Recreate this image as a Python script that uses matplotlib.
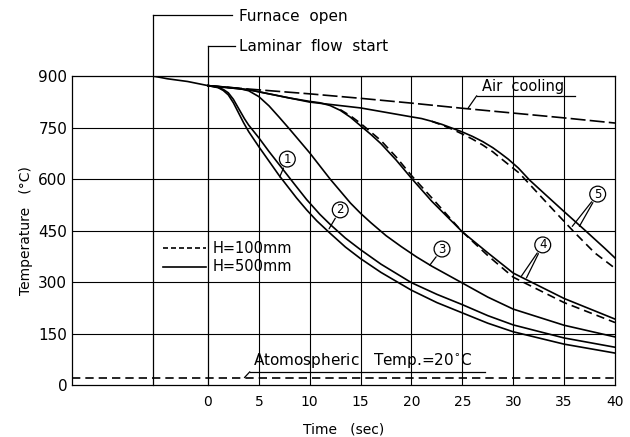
import matplotlib.pyplot as plt

# --- data (time in sec, temperature in deg C) ---
t_furnace = -5.4
pre_t = [-5.4, -4, -2, 0]
pre_T = [900, 892, 884, 872]

air_t = [0, 4, 10, 15, 20, 25, 30, 35, 40]
air_T = [872, 862, 848, 835, 821, 806, 792, 778, 763]

c1_t = [0, 1, 1.5, 2, 2.5, 3, 3.5, 4, 5, 6, 7, 8.7, 9.7, 10.7, 12, 13.5, 15, 17, 20, 22.5, 25, 27.5, 30, 35, 40]
c1_T = [872, 866, 858, 845, 822, 793, 764, 738, 694, 652, 610, 545, 510, 478, 442, 402, 368, 328, 276, 240, 210, 180, 155, 119, 93]

c2_t = [0, 1, 1.5, 2, 2.5, 3, 3.6, 4, 5, 6, 7, 8.5, 9.7, 11, 12, 13.5, 15, 17, 20, 22.5, 25, 27.5, 30, 35, 40]
c2_T = [872, 867, 861, 851, 832, 806, 775, 757, 720, 680, 642, 585, 540, 497, 468, 428, 394, 352, 298, 264, 234, 202, 175, 137, 110]

c3_t = [0, 2, 3, 4, 5, 6, 7, 8, 10, 12, 14, 15, 16, 17.5, 19, 20.5, 22, 25, 27.5, 30, 35, 40]
c3_T = [872, 867, 864, 857, 840, 813, 780, 746, 676, 600, 530, 500, 473, 435, 403, 373, 346, 297, 256, 221, 174, 140]

c4s_t = [0, 4, 8, 10, 11, 12, 13, 14, 15, 16, 17, 18.5, 20, 22, 25, 27.5, 30, 35, 40]
c4s_T = [872, 860, 836, 826, 822, 814, 800, 780, 755, 730, 703, 655, 602, 535, 446, 385, 326, 252, 192]
c4d_t = [13, 14, 15, 16, 17, 18.5, 20, 22, 25, 27.5, 30, 35, 40]
c4d_T = [802, 784, 762, 737, 712, 664, 610, 545, 446, 377, 314, 240, 182]

c5s_t = [0, 4, 10, 15, 20, 21, 22, 23, 24, 25, 26, 27, 28, 28.7, 29.5, 30.5, 31.6, 33, 35, 37, 39, 40]
c5s_T = [872, 860, 824, 807, 781, 776, 768, 759, 748, 737, 724, 709, 691, 676, 658, 632, 597, 559, 505, 452, 398, 370]
c5d_t = [22, 23, 24, 25, 26, 27, 28, 28.7, 29.5, 30.6, 32, 34, 36, 38, 40]
c5d_T = [768, 757, 745, 731, 716, 699, 679, 662, 643, 617, 572, 508, 445, 385, 340]

T_atm = 20
xticks = [0, 5, 10, 15, 20, 25, 30, 35, 40]
yticks = [0, 150, 300, 450, 600, 750, 900]

fig = plt.figure(figsize=(6.3, 4.37), dpi=100)
ax = fig.add_axes([72/630, 1-385/437, (615-72)/630, (385-76)/437])
ax.set_xlim(-13.36, 40)
ax.set_ylim(0, 900)

# grid
for y in yticks[1:-1]:
    ax.axhline(y, color='k', lw=0.8)
for x in xticks[1:-1]:
    ax.axvline(x, color='k', lw=0.8)
ax.axhline(900, xmin=(t_furnace+13.36)/53.36, color='k', lw=0.9)

# furnace open / laminar flow start markers
ax.plot([t_furnace, t_furnace], [0, 1078], color='k', lw=0.9, clip_on=False)
ax.plot([t_furnace, 2.4], [1078, 1078], color='k', lw=0.9, clip_on=False)
ax.text(3.1, 1072, 'Furnace  open', fontsize=11, va='center')
ax.plot([0, 0], [0, 987], color='k', lw=0.9, clip_on=False)
ax.plot([0, 2.7], [987, 987], color='k', lw=0.9, clip_on=False)
ax.text(3.1, 987, 'Laminar  flow  start', fontsize=11, va='center')

lw = 1.2
ax.plot([-13.36, t_furnace], [900, 900], color='k', lw=lw, ls=(0, (5, 3)))
ax.plot(pre_t, pre_T, color='k', lw=lw)
ax.plot(air_t, air_T, color='k', lw=lw, ls=(0, (9, 2.5)))
for tt, TT in [(c1_t, c1_T), (c2_t, c2_T), (c3_t, c3_T), (c4s_t, c4s_T), (c5s_t, c5s_T)]:
    ax.plot(tt, TT, color='k', lw=lw)
for tt, TT in [(c4d_t, c4d_T), (c5d_t, c5d_T)]:
    ax.plot(tt, TT, color='k', lw=lw, ls=(0, (5, 3)))
ax.axhline(T_atm, color='k', lw=lw, ls=(0, (5, 3)))

# labels on the plot
ax.text(26.9, 868, 'Air  cooling', fontsize=10.5, va='center')
ax.plot([26.4, 36.1], [842, 842], color='k', lw=0.9)
ax.plot([26.4, 25.6], [842, 808], color='k', lw=0.9)

ax.text(4.4, 70, 'Atomospheric   Temp.=20$^{\\circ}$C', fontsize=11, va='center')
ax.plot([4.1, 27.2], [38, 38], color='k', lw=0.9)
ax.plot([4.1, 3.6], [38, 22], color='k', lw=0.9)

ax.plot([-4.4, -0.2], [399, 399], color='k', lw=lw, ls=(0, (3, 1.8)))
ax.text(0.5, 399, 'H=100mm', fontsize=10.5, va='center')
ax.plot([-4.4, -0.2], [344, 344], color='k', lw=lw)
ax.text(0.5, 344, 'H=500mm', fontsize=10.5, va='center')

def tag(s, xc, yc, ends):
    for xe, ye in ends:
        ax.annotate('', xy=(xe, ye), xytext=(xc, yc),
                    arrowprops=dict(arrowstyle='-', lw=0.9, shrinkA=7, shrinkB=0))
    ax.text(xc, yc, s, ha='center', va='center', fontsize=8.5,
            bbox=dict(boxstyle='circle,pad=0.12', fc='white', ec='k', lw=0.9))

tag('1', 7.8, 658, [(7.05, 606)])
tag('2', 13.0, 510, [(11.9, 455)])
tag('3', 23.0, 396, [(21.8, 349)])
tag('4', 32.9, 408, [(30.8, 317), (31.3, 312)])
tag('5', 38.3, 556, [(35.8, 462), (36.5, 462)])

ax.set_xticks(xticks)
ax.set_yticks(yticks)
ax.tick_params(length=0, labelsize=11)
ax.tick_params(axis='x', pad=7, labelsize=10)
for s in ax.spines.values():
    s.set_linewidth(0.9)
ax.set_xlabel('Time   (sec)', fontsize=10, labelpad=10)
ax.set_ylabel('Temperature   (°C)', fontsize=10, labelpad=4)

fig.savefig('out.png', dpi=100)
